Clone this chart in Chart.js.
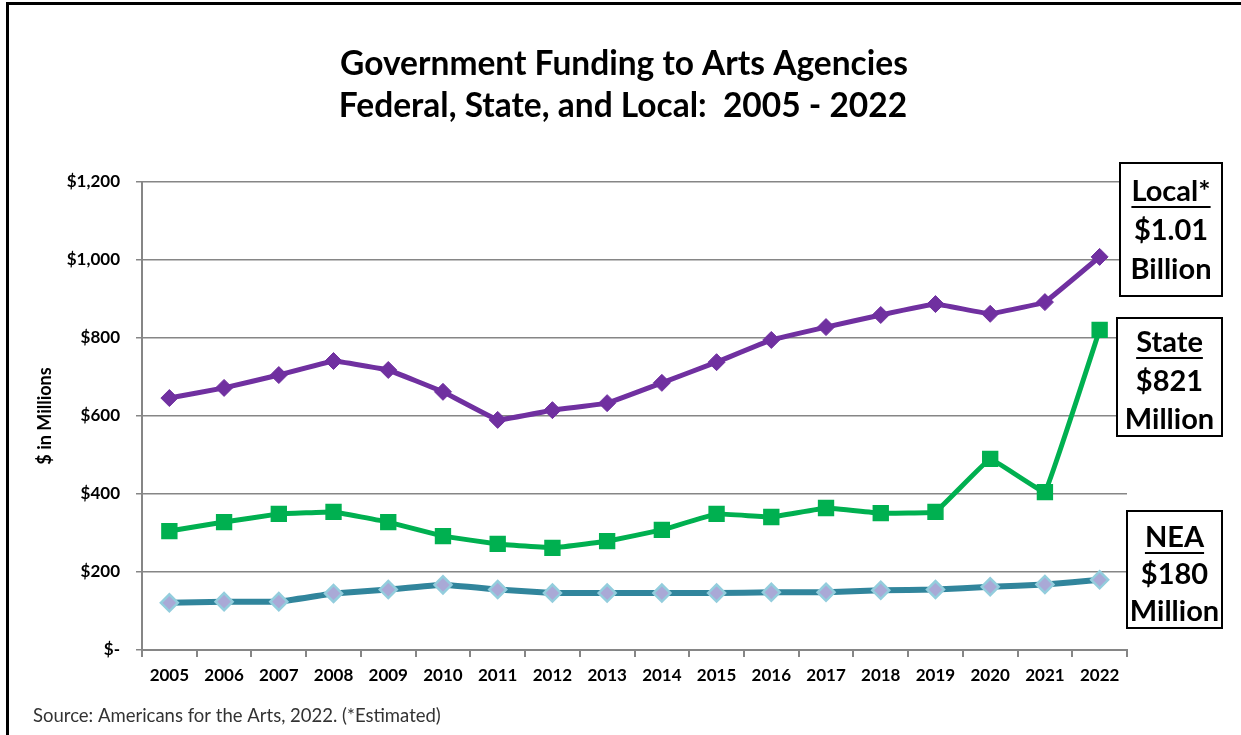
<!DOCTYPE html>
<html>
<head>
<meta charset="utf-8">
<script src="https://cdn.jsdelivr.net/npm/chart.js@4.4.1/dist/chart.umd.min.js"></script>
<style>
  html, body { margin: 0; padding: 0; background: #fff; }
  #wrap { width: 1241px; height: 735px; position: relative; }
</style>
</head>
<body>
<div id="wrap"><canvas id="fundingchart" width="1241" height="735"></canvas></div>
<script>
var years = ['2005','2006','2007','2008','2009','2010','2011','2012','2013','2014','2015','2016','2017','2018','2019','2020','2021','2022'];

// $ millions
var local = [646, 672, 705, 741, 718, 662, 590, 615, 633, 685, 738, 795, 828, 859, 887, 862, 892, 1008];
var state = [305, 328, 349, 354, 328, 292, 272, 262, 279, 308, 349, 341, 364, 351, 354, 490, 405, 821];
var nea   = [121, 124, 124, 145, 155, 167, 155, 146, 146, 146, 146, 148, 148, 153, 155, 162, 168, 180];

var yTicks = [0, 200, 400, 600, 800, 1000, 1200];

var titleLines = ['Government Funding to Arts Agencies', 'Federal, State, and Local:  2005 - 2022'];

var labelBoxes = [
  { lines: ['Local*', '$1.01', 'Billion'], x: 1120, y: 163, w: 102, h: 133, first: 29, step: 39 },
  { lines: ['State', '$821', 'Million'], x: 1117, y: 318, w: 105, h: 118, first: 25, step: 38.5 },
  { lines: ['NEA', '$180', 'Million'], x: 1127, y: 511, w: 95, h: 117, first: 27, step: 37 }
];

var fontFam = 'Lato, "Open Sans", sans-serif';

var boxesPlugin = {
  id: 'boxes',
  afterDraw: function (chart) {
    var ctx = chart.ctx;
    ctx.save();
    // outer frame
    ctx.strokeStyle = '#000';
    ctx.lineWidth = 3;
    ctx.beginPath();
    ctx.moveTo(7.5, 735);
    ctx.lineTo(7.5, 3.5);
    ctx.lineTo(1241, 3.5);
    ctx.stroke();

    // title
    ctx.fillStyle = '#000';
    ctx.font = 'bold 33.5px ' + fontFam;
    ctx.textAlign = 'center';
    ctx.textBaseline = 'middle';
    ctx.fillText(titleLines[0], 624, 64);
    ctx.fillText(titleLines[1], 623, 106);

    labelBoxes.forEach(function (b) {
      ctx.fillStyle = '#fff';
      ctx.fillRect(b.x, b.y, b.w, b.h);
      ctx.lineWidth = 2;
      ctx.strokeStyle = '#000';
      ctx.strokeRect(b.x, b.y, b.w, b.h);
      ctx.fillStyle = '#000';
      ctx.font = 'bold 29px ' + fontFam;
      ctx.textAlign = 'center';
      ctx.textBaseline = 'middle';
      var cx = b.x + b.w / 2;
      b.lines.forEach(function (t, i) {
        var ty = b.y + b.first + i * b.step;
        ctx.fillText(t, cx, ty);
        if (i === 0) {
          var tw = ctx.measureText(t).width;
          ctx.lineWidth = 2;
          ctx.beginPath();
          ctx.moveTo(cx - tw / 2, ty + 15);
          ctx.lineTo(cx + tw / 2, ty + 15);
          ctx.stroke();
        }
      });
    });

    ctx.font = '18.5px ' + fontFam;
    ctx.fillStyle = '#333';
    ctx.textAlign = 'left';
    ctx.textBaseline = 'middle';
    ctx.fillText('Source: Americans for the Arts, 2022. (*Estimated)', 33, 716);
    ctx.restore();
  }
};

var data = {
  labels: years,
  datasets: [
    {
      label: 'Local',
      data: local,
      borderColor: '#7030a0',
      backgroundColor: '#7030a0',
      borderWidth: 5,
      tension: 0.05,
      pointStyle: 'rectRot',
      pointRadius: 8.5,
      pointBorderWidth: 1
    },
    {
      label: 'State',
      data: state,
      borderColor: '#00b050',
      backgroundColor: '#00b050',
      borderWidth: 5,
      tension: 0.05,
      pointStyle: 'rect',
      pointRadius: 10.5,
      pointBorderWidth: 1.5
    },
    {
      label: 'NEA',
      data: nea,
      borderColor: '#31859c',
      backgroundColor: '#a9a9d6',
      pointBorderColor: '#93cddd',
      borderWidth: 6,
      tension: 0.05,
      pointStyle: 'rectRot',
      pointRadius: 8.5,
      pointBorderWidth: 2.5
    }
  ]
};

var chartOptions = {
  responsive: false,
  animation: false,
  layout: { padding: { left: 34, right: 114, top: 182, bottom: 0 } },
  plugins: {
    legend: { display: false },
    tooltip: { enabled: false },
    title: { display: false }
  },
  scales: {
    x: {
      offset: true,
      grid: { drawOnChartArea: false, drawTicks: true, tickLength: 7, color: '#868686', lineWidth: 2, offset: true },
      border: { color: '#868686', width: 2 },
      ticks: { color: '#000', font: { family: fontFam, size: 17, weight: 'bold' }, padding: 8, maxRotation: 0, autoSkip: false },
      afterFit: function (s) { s.height = 85; }
    },
    y: {
      min: 0,
      max: 1200,
      afterBuildTicks: function (s) { s.ticks = yTicks.map(function (v) { return { value: v }; }); },
      grid: { color: '#868686', lineWidth: 1.5, tickLength: 6 },
      border: { color: '#868686', width: 2 },
      ticks: {
        color: '#000',
        padding: 16,
        font: { family: fontFam, size: 17, weight: 'bold' },
        callback: function (v) { return v === 0 ? '$-' : '$' + v.toLocaleString('en-US'); }
      },
      title: {
        display: true,
        text: '$ in Millions',
        color: '#000',
        font: { family: fontFam, size: 18, weight: 'bold' },
        padding: { top: 0, bottom: 0 }
      },
      afterFit: function (s) { s.width = 108; }
    }
  }
};

var fundingChart = new Chart(document.getElementById('fundingchart').getContext('2d'), {
  type: 'line',
  data: data,
  options: chartOptions,
  plugins: [boxesPlugin]
});
</script>
</body>
</html>
